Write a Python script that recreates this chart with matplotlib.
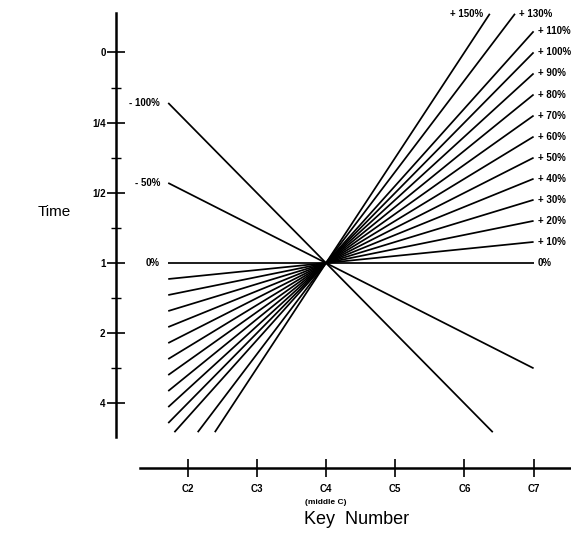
import numpy as np
import matplotlib
matplotlib.use("Agg")
import matplotlib.pyplot as plt

# ---- data ----
# Percent labels: slope of log2(time) per octave relative to middle C (C4)
pct_pos = [0, 10, 20, 30, 40, 50, 60, 70, 80, 90, 100, 110, 130, 150]
pct_neg = [-50, -100]
key_labels = ["C2", "C3", "C4", "C5", "C6", "C7"]
key_pos = [-2, -1, 0, 1, 2, 3]            # octaves from C4
time_labels = ["0", "1/4", "1/2", "1", "2", "4"]
time_pos = [-3, -2, -1, 0, 1, 2]          # log2 units (downward)

# plotting region for the fan of lines (octaves / log2 units)
X_MIN, X_MAX = -2.28, 3.0
Y_TOP, Y_BOT = -3.55, 2.41

W, H = 571, 537
fig = plt.figure(figsize=(W / 100, H / 100), dpi=100)
ax = fig.add_axes([0, 0, 1, 1])
PX_X, PX_Y = 69.2, 70.2
X0, Y0 = 326, 263
ax.set_xlim(-X0 / PX_X, (W - X0) / PX_X)
ax.set_ylim((H - Y0) / PX_Y, -Y0 / PX_Y)

lab_font = dict(family="Liberation Sans", fontweight="bold", fontsize=7)


def segment(p):
    s = p / 100.0
    lo, hi = X_MIN, X_MAX
    if s != 0:
        a, b = sorted([-Y_TOP / s, -Y_BOT / s])
        lo, hi = max(lo, a), min(hi, b)
    xs = np.array([lo, hi])
    return xs, -s * xs


for p in pct_pos + pct_neg:
    xs, ys = segment(p)
    ax.plot(xs, ys, color="black", lw=1.25, solid_capstyle="butt")

# right-hand / top labels
for p in pct_pos:
    xs, ys = segment(p)
    txt = "0%" if p == 0 else f"+ {p}%"
    if p == 150:
        ax.text(xs[1] - 0.1, ys[1], txt, ha="right", va="center", **lab_font)
    else:
        ax.text(xs[1] + 0.06, ys[1], txt, ha="left", va="center", **lab_font)

# left labels
for p in [0] + pct_neg:
    xs, ys = segment(p)
    txt = "0%" if p == 0 else f"- {abs(p)}%"
    ax.text(xs[0] - 0.12, ys[0], txt, ha="right", va="center", **lab_font)

# axes styling
for sp in ["top", "right"]:
    ax.spines[sp].set_visible(False)
ax.spines["left"].set_position(("data", (116 - X0) / PX_X))
ax.spines["left"].set_bounds(-3.56, 2.48)
ax.spines["bottom"].set_position(("data", (468 - Y0) / PX_Y))
ax.spines["bottom"].set_bounds(-2.69, 3.6)
for sp in ["left", "bottom"]:
    ax.spines[sp].set_linewidth(1.8)

ax.set_yticks(time_pos)
ax.set_yticklabels(time_labels)
ax.set_yticks([-2.5, -1.5, -0.5, 0.5, 1.5], minor=True)
ax.set_xticks(key_pos)
ax.set_xticklabels(key_labels)
ax.tick_params(axis="both", which="major", direction="inout", length=13,
               width=1.2, pad=1)
ax.tick_params(axis="x", which="major", pad=5)
ax.tick_params(axis="both", which="minor", direction="inout", length=7,
               width=1.0)
for t in ax.get_xticklabels() + ax.get_yticklabels():
    t.set_fontfamily("Liberation Sans")
    t.set_fontweight("bold")
    t.set_fontsize(7)

ax.text(0, (502 - Y0) / PX_Y, "(middle C)", ha="center", va="center",
        family="Liberation Sans", fontweight="bold", fontsize=6)
ax.text((357 - X0) / PX_X, (519 - Y0) / PX_Y, "Key  Number", ha="center",
        va="center", family="Liberation Sans", fontsize=13)
ax.text((54 - X0) / PX_X, (212 - Y0) / PX_Y, "Time", ha="center",
        va="center", family="Liberation Sans", fontsize=11)

fig.savefig("out.png", dpi=100)
